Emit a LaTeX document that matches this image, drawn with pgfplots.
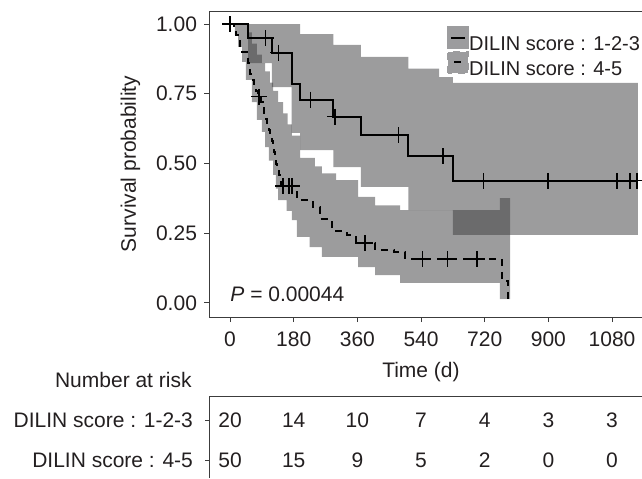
\documentclass[border=0pt]{standalone}
\usepackage{fontspec}
\setmainfont{Liberation Sans}
\usepackage{pgfplots}
\pgfplotsset{compat=1.18}
\definecolor{ink}{HTML}{231F20}
\definecolor{frame}{HTML}{3C3C3C}
\definecolor{bandgrey}{HTML}{3A3A3C}
\definecolor{keygrey}{HTML}{9C9C9E}
\newcommand{\fs}{\fontsize{10.5}{12.6}\selectfont}
\pgfplotsset{
  km/.style={
    scale only axis,
    width=218.5pt,
    xmin=-59.4, xmax=1176,
    /pgf/number format/assume math mode=true,
    axis line style={frame, line width=0.5pt},
    tick style={frame, line width=0.5pt},
    tick align=outside,
    major tick length=2.5pt,
    tick label style={font=\fs, text=ink},
    label style={font=\fs, text=ink}
  }
}

\begin{document}
\begin{tikzpicture}
\path[use as bounding box] (0,0) rectangle (321pt,239pt);

% survival curves
\begin{axis}[
  km,
  at={(104.5pt,80.5pt)}, anchor=south west,
  height=153pt,
  ymin=-0.0502, ymax=1.0466,
  xtick={0,180,360,540,720,900,1080},
  ytick={0,0.25,0.5,0.75,1},
  xtick pos=bottom, ytick pos=left,
  xticklabel style={/pgf/number format/1000 sep={}, yshift=-1.5pt},
  yticklabel style={/pgf/number format/.cd, fixed, fixed zerofill, precision=2},
  xlabel={Time (d)},
  ylabel={Survival probability},
  xlabel style={at={(rel axis cs:0.485,-0.18)}, anchor=center},
  ylabel style={at={(rel axis cs:-0.18,0.5)}, anchor=center, rotate=0},
  legend style={at={(rel axis cs:0.545,0.951)}, anchor=north west,
    draw=none, fill=none, inner sep=0pt, outer sep=0pt,
    row sep=0pt, font=\fontsize{10}{12}\selectfont, text=ink,
    nodes={inner sep=0pt, text depth=0pt},
    /tikz/every even column/.append style={column sep=2pt}},
  legend cell align=left
]
% confidence bands
\addplot[fill=bandgrey, fill opacity=0.5, draw=none, forget plot] coordinates {
  (51,1)(198,1)(198,0.964)(292,0.964)(292,0.925)(370,0.925)(370,0.882)
  (504,0.882)(504,0.840)(591,0.840)(591,0.810)(630,0.810)(630,0.789)(1153,0.789)
  (1153,0.244)(630,0.244)(630,0.333)(504,0.333)(504,0.416)(370,0.416)
  (370,0.487)(292,0.487)(292,0.548)(198,0.548)(198,0.61)(174,0.61)
  (174,0.774)(118,0.774)(118,0.86)(51,0.86)
};
\addplot[fill=bandgrey, fill opacity=0.5, draw=none, forget plot] coordinates {
  (14,1)(51,1)(51,0.97)(62,0.97)(62,0.93)(76,0.93)(76,0.89)(90,0.89)
  (90,0.86)(99,0.86)(99,0.83)(113,0.83)(113,0.79)(122,0.79)(122,0.76)
  (136,0.76)(136,0.72)(150,0.72)(150,0.68)(163,0.68)(163,0.64)(175,0.64)
  (175,0.60)(198,0.60)(198,0.52)(240,0.52)(240,0.49)(260,0.49)(260,0.465)
  (300,0.465)(300,0.44)(362,0.44)(362,0.38)(410,0.38)(410,0.35)(481,0.35)
  (481,0.333)(763,0.333)(763,0.376)(792,0.376)
  (792,0.014)(763,0.014)(763,0.072)(481,0.072)(481,0.10)(410,0.10)
  (410,0.129)(362,0.129)(362,0.165)(260,0.165)(260,0.20)(225,0.20)
  (225,0.237)(189,0.237)(189,0.297)(175,0.297)(175,0.33)(160,0.33)
  (160,0.369)(136,0.369)(136,0.41)(130,0.41)(130,0.459)(122,0.459)
  (122,0.51)(110,0.51)(110,0.559)(99,0.559)(99,0.613)(90,0.613)
  (90,0.656)(76,0.656)(76,0.72)(62,0.72)(62,0.80)(45,0.80)(45,0.864)
  (34,0.864)(34,0.918)(23,0.918)(23,0.96)(14,0.96)
};
% DILIN 1-2-3
\addplot[const plot, black, line width=1pt,
  legend image code/.code={
    \fill[keygrey] (0pt,-2.2pt) rectangle (10pt,8.3pt);
    \draw[black, line width=1pt] (1.5pt,3pt) -- (8.5pt,3pt);}]
  coordinates {
  (0,1)(51,0.95)(118,0.897)(174,0.785)(198,0.729)(292,0.668)
  (370,0.601)(504,0.526)(630,0.438)(1151,0.438)
};
\addlegendentry{DILIN score : 1-2-3}
% DILIN 4-5
\addplot[const plot, black, line width=1pt, dash pattern=on 3.5pt off 3pt,
  legend image code/.code={
    \fill[keygrey] (0pt,-2.2pt) rectangle (10pt,8.3pt);
    \draw[black, line width=1pt] (3pt,3pt) -- (6.5pt,3pt);}]
  coordinates {
  (0,1)(12,0.98)(18,0.96)(23,0.94)(28,0.92)(35,0.90)(48,0.88)(52,0.86)
  (55,0.84)(57,0.82)(62,0.80)(68,0.78)(73,0.76)(80,0.74)(88,0.72)
  (92,0.70)(96,0.68)(99,0.66)(104,0.64)(110,0.62)(113,0.60)(118,0.58)
  (122,0.56)(124,0.54)(126,0.52)(130,0.50)(134,0.48)(138,0.46)
  (142,0.44)(145,0.42)(189,0.37)(235,0.344)(255,0.30)(288,0.258)
  (330,0.244)(355,0.215)(410,0.19)(465,0.183)(495,0.158)(769,0.08)
  (786,0.0)
};
\addlegendentry{DILIN score : 4-5}
% censoring marks
\addplot[only marks, mark=+, mark size=4pt, black, line width=0.7pt, forget plot]
  coordinates {
  (0,1)(101,0.95)(137,0.897)(228,0.729)(297,0.668)(476,0.601)(602,0.526)
  (716,0.438)(899,0.438)(1094,0.438)(1131,0.438)(1151,0.438)
};
\addplot[only marks, mark=+, mark size=4pt, black, line width=0.7pt, forget plot]
  coordinates {
  (82,0.74)(150,0.42)(167,0.42)(175,0.42)(382,0.215)(545,0.158)
  (614,0.158)(698,0.158)
};
\node[anchor=west, inner sep=0pt, font=\fs, text=ink] at (axis cs:0,0.03)
  {\textit{P} = 0.00044};
\end{axis}

% number at risk table
\begin{axis}[
  km,
  at={(104.5pt,0pt)}, anchor=south west,
  height=41pt,
  ymin=0, ymax=82,
  axis x line*=top, axis y line*=left,
  x axis line style={-}, y axis line style={-},
  xtick=\empty,
  ytick={18,58},
  yticklabels={DILIN score : 4-5, DILIN score : 1-2-3},
  yticklabel style={xshift=-2.5pt},
  major tick length=2pt,
  clip=false
]
\addplot[draw=none, mark=none, nodes near coords, point meta=explicit symbolic,
  every node near coord/.append style={anchor=center, font=\fs, text=ink}]
  table[meta=n] {
x y n
0 58 20
180 58 14
360 58 10
540 58 7
720 58 4
900 58 3
1080 58 3
0 18 50
180 18 15
360 18 9
540 18 5
720 18 2
900 18 0
1080 18 0
};
\node[anchor=east, inner sep=0pt, font=\fs, text=ink] at (rel axis cs:0,1)
  [xshift=-8.5pt, yshift=8pt] {Number at risk};
\end{axis}
\end{tikzpicture}
\end{document}
